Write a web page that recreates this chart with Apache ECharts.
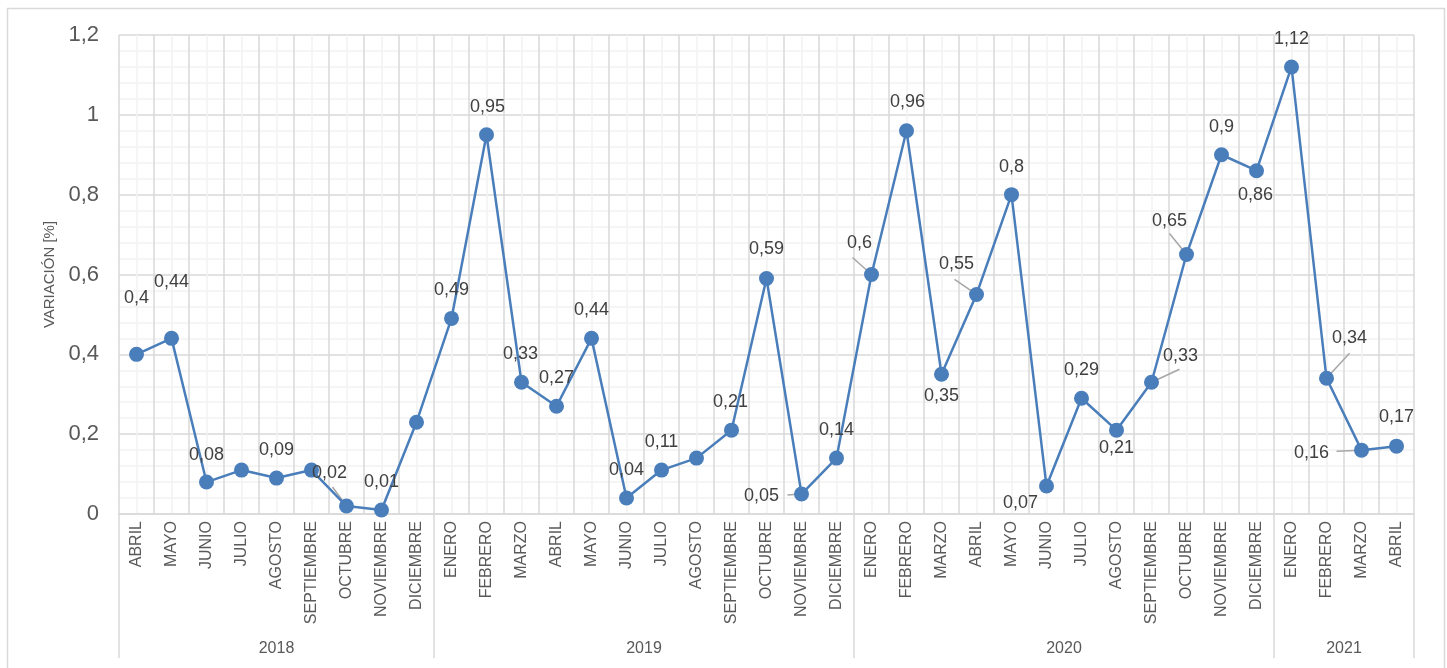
<!DOCTYPE html>
<html>
<head>
<meta charset="utf-8">
<script src="https://cdn.jsdelivr.net/npm/echarts@6/dist/echarts.min.js"></script>
<style>html,body{margin:0;padding:0;background:#fff}#c{width:1447px;height:668px}</style>
</head>
<body>
<div id="c"></div>
<script>
// ---- data ----
const months = [
  'ABRIL','MAYO','JUNIO','JULIO','AGOSTO','SEPTIEMBRE','OCTUBRE','NOVIEMBRE','DICIEMBRE',
  'ENERO','FEBRERO','MARZO','ABRIL','MAYO','JUNIO','JULIO','AGOSTO','SEPTIEMBRE','OCTUBRE','NOVIEMBRE','DICIEMBRE',
  'ENERO','FEBRERO','MARZO','ABRIL','MAYO','JUNIO','JULIO','AGOSTO','SEPTIEMBRE','OCTUBRE','NOVIEMBRE','DICIEMBRE',
  'ENERO','FEBRERO','MARZO','ABRIL'
];
const values = [
  0.40, 0.44, 0.08, 0.11, 0.09, 0.11, 0.02, 0.01, 0.23,
  0.49, 0.95, 0.33, 0.27, 0.44, 0.04, 0.11, 0.14, 0.21, 0.59, 0.05, 0.14,
  0.60, 0.96, 0.35, 0.55, 0.80, 0.07, 0.29, 0.21, 0.33, 0.65, 0.90, 0.86,
  1.12, 0.34, 0.16, 0.17
];
const years = ['2018', '2019', '2020', '2021'];
const yearCounts = [9, 12, 12, 4];
const yTickValues = [0, 0.2, 0.4, 0.6, 0.8, 1, 1.2];

// ---- label placement (layout only): index -> [dx, dy] of label centre from the point ----
const labelPlacement = {
  0: [0, -56], 1: [0, -56], 2: [0, -27], 4: [0, -28], 6: [-17, -33], 7: [0, -28],
  9: [0, -28], 10: [1, -28], 11: [-1, -28], 12: [0, -28], 13: [0, -28], 14: [0, -28],
  15: [0, -28], 17: [-1, -28], 18: [0, -29], 19: [-40, 2], 20: [0, -28],
  21: [-12, -31], 22: [1, -29], 23: [0, 22], 24: [-20, -30], 25: [0, -28],
  26: [-26, 17], 27: [0, -28], 28: [0, 18], 29: [29, -26], 30: [-17, -34],
  31: [0, -28], 32: [-1, 24], 33: [0, -28], 34: [23, -40], 35: [-50, 3], 36: [0, -29]
};
// leader lines (layout only): index -> [dx, dy] of the line start, line ends at the point
const leaderLines = {
  6: [-14, -19], 19: [-14, 1], 21: [-19, -17], 24: [-22, -15],
  29: [28, -13], 30: [-17, -21], 34: [23, -25], 35: [-25, 1]
};

const bounds = [0];
yearCounts.forEach(c => bounds.push(bounds[bounds.length - 1] + c));
const centers = years.map((y, i) => (bounds[i] + bounds[i + 1]) / 2);
const fmt = v => String(+(+v).toFixed(2)).replace('.', ',');
const FONT = '"Liberation Sans", Arial, sans-serif';
const GRID_MAJOR = '#d9d9d9', GRID_MINOR = '#f2f2f2', TXT = '#595959';

const seriesData = values.map((v, i) => {
  const p = labelPlacement[i];
  if (!p) return { value: v, label: { show: false } };
  return { value: v, label: { show: true, position: 'inside', offset: [p[0], p[1]] } };
});
const leaderIdx = Object.keys(leaderLines).map(Number);
const leaderData = leaderIdx.map(i => [i, values[i]]);

const chart = echarts.init(document.getElementById('c'), null, { renderer: 'canvas' });
chart.setOption({
  animation: false,
  backgroundColor: '#fff',
  textStyle: { fontFamily: FONT },
  graphic: [{
    type: 'rect', left: 5, top: 6, z: -10, silent: true,
    shape: { width: 1437, height: 680 },
    style: { fill: 'none', stroke: '#d9d9d9', lineWidth: 1.5 }
  }],
  grid: { left: 119, right: 33, top: 35, bottom: 154, containLabel: false },
  xAxis: [
    {
      type: 'category', data: months, boundaryGap: true, position: 'bottom',
      axisLine: { show: true, lineStyle: { color: GRID_MAJOR, width: 1.5 } },
      axisTick: { show: false },
      axisLabel: { interval: 0, rotate: 90, fontSize: 16, color: TXT, margin: 7, fontFamily: FONT },
      splitLine: { show: false }
    },
    {
      type: 'value', min: 0, max: months.length, interval: 1, position: 'bottom',
      axisLine: { show: false }, axisTick: { show: false }, axisLabel: { show: false },
      splitLine: { show: true, lineStyle: { color: GRID_MAJOR, width: 1.5 } },
      minorTick: { show: false, splitNumber: 2 },
      minorSplitLine: { show: true, lineStyle: { color: GRID_MINOR, width: 1.5 } }
    },
    {
      type: 'value', min: 0, max: months.length, position: 'bottom',
      axisLine: { show: false },
      axisTick: { show: true, customValues: bounds, length: 144, lineStyle: { color: GRID_MAJOR, width: 1.5 } },
      axisLabel: {
        show: true, customValues: centers, margin: 127, fontSize: 16, color: TXT, fontFamily: FONT,
        formatter: v => years[centers.indexOf(v)] || ''
      },
      splitLine: { show: false }
    }
  ],
  yAxis: {
    type: 'value', min: yTickValues[0], max: yTickValues[yTickValues.length - 1], interval: 0.2,
    name: 'VARIACIÓN [%]', nameLocation: 'middle', nameGap: 62, nameRotate: 90,
    nameTextStyle: { fontSize: 15, color: TXT, fontFamily: FONT },
    axisLine: { show: false }, axisTick: { show: false },
    axisLabel: { fontSize: 22, color: TXT, margin: 20, fontFamily: FONT, formatter: fmt },
    splitLine: { show: true, lineStyle: { color: GRID_MAJOR, width: 1.5 } },
    minorTick: { show: false, splitNumber: 5 },
    minorSplitLine: { show: true, lineStyle: { color: GRID_MINOR, width: 1.5 } }
  },
  series: [
    {
      type: 'custom', xAxisIndex: 0, yAxisIndex: 0, data: leaderData, z: 4, silent: true,
      renderItem: (params, api) => {
        const i = api.value(0);
        const pt = api.coord([i, api.value(1)]);
        const d = leaderLines[i];
        return {
          type: 'line',
          shape: { x1: pt[0] + d[0], y1: pt[1] + d[1], x2: pt[0], y2: pt[1] },
          style: { stroke: '#a6a6a6', lineWidth: 1.5 }
        };
      }
    },
    {
      type: 'line', xAxisIndex: 0, yAxisIndex: 0, data: seriesData,
      symbol: 'circle', symbolSize: 15, z: 5,
      lineStyle: { color: '#4a7ebb', width: 2.5 },
      itemStyle: { color: '#4a7ebb' },
      label: { fontSize: 18, color: '#404040', fontFamily: FONT, formatter: p => fmt(p.value) },
      emphasis: { disabled: true }
    }
  ]
});
</script>
</body>
</html>
